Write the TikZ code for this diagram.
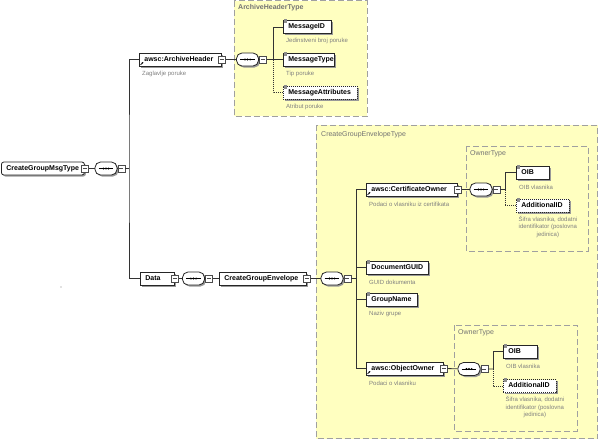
\documentclass[tikz,border=0pt]{standalone}
\usepackage{fontspec}
\setmainfont{Liberation Sans}
\usetikzlibrary{shadows,arrows.meta}
\definecolor{typebg}{RGB}{255,255,192}
\definecolor{typeline}{RGB}{160,160,160}
\definecolor{desctext}{RGB}{128,128,128}
\newcommand{\elemfont}{\fontsize{7}{8}\selectfont\bfseries}
\newcommand{\descfont}{\fontsize{6}{7.5}\selectfont}
\newcommand{\titlefont}{\fontsize{7}{8}\selectfont}
\tikzset{
  elem/.style={draw=black!85, fill=white, line width=0.8pt, font=\elemfont,
    inner xsep=5pt, inner ysep=0pt, minimum height=13pt, text height=5pt,
    text depth=1.5pt, anchor=west, align=left,
    drop shadow={shadow xshift=1.5pt, shadow yshift=-1.5pt, fill=black!40, opacity=1}},
  optelem/.style={elem, dash pattern=on 1pt off 1pt},
  seqbox/.style={draw=black!85, fill=white, line width=0.8pt, rounded corners=5.5pt,
    minimum width=22pt, minimum height=13pt, inner sep=0pt,
    drop shadow={shadow xshift=1.5pt, shadow yshift=-1.5pt, fill=black!40, opacity=1}},
  collapse/.style={draw=black!70, fill=white, line width=0.6pt, minimum size=7pt, inner sep=0pt,
    path picture={\draw[line width=0.6pt] ([xshift=1.5pt]path picture bounding box.west)
      -- ([xshift=-1.5pt]path picture bounding box.east);}},
  desc/.style={font=\descfont, text=desctext, inner sep=0pt, anchor=west},
  typebox/.style={draw=typeline, fill=typebg, line width=1pt, dash pattern=on 6pt off 3pt},
  typetitle/.style={font=\titlefont, text=black!55, inner sep=0pt, anchor=west},
  conn/.style={draw=black!80, line width=0.8pt},
  optconn/.style={conn, dash pattern=on 1pt off 1pt}
}
\begin{document}
\begin{tikzpicture}[x=1pt,y=-1pt]
	\useasboundingbox (0,0) rectangle (598,439);
	% type boxes
	\draw[typebox] (234,0.5) rectangle (367,116);
	\draw[typebox] (316,125) rectangle (597.5,438.5);
	\draw[typebox] (466,146) rectangle (588,251);
	\draw[typebox] (454,325) rectangle (577,431);
	\node[typetitle] (aht) at (238,8) {\bfseries ArchiveHeaderType};
	\node[typetitle] (cget) at (321,135) {CreateGroupEnvelopeType};
	\node[typetitle] (ot1) at (470,154) {OwnerType};
	\node[typetitle] (ot2) at (458,333) {OwnerType};
	% elements
	\node[elem, rounded corners=2.5pt, text width=73pt] (msg) at (1,168.5) {CreateGroupMsgType};
	\foreach \n/\x/\y/\w/\t in {ah/139/59.5/72/awsc:ArchiveHeader, mid/283/27/38/MessageID,
		mtype/283/59.5/41/MessageType, data/140/278.5/24/Data, cge/219/278.5/77/CreateGroupEnvelope,
		cert/366/189.5/81/awsc:CertificateOwner, dguid/366/267.5/52/DocumentGUID,
		gname/366/299.5/41/GroupName, oown/366/368.5/67/awsc:ObjectOwner,
		oib1/516/172.5/23/OIB, oib2/503/351.5/24/OIB}
	{\node[elem, text width=\w pt] (\n) at (\x,\y) {\t};}
	\foreach \n/\x/\y/\w/\t in {mattr/283/92.5/64/MessageAttributes,
		add1/516/205.5/43/AdditionalID, add2/503/386/43/AdditionalID}
	{\node[optelem, text width=\w pt] (\n) at (\x,\y) {\t};}
	\foreach \n in {mid,mtype,mattr,dguid,gname,oib1,add1,oib2,add2}
		\fill[black!45] ([xshift=0.5pt,yshift=1pt]\n.north west) rectangle ++(3,4);
	\foreach \n in {ah,cert,oown}
		\draw[black, line width=0.6pt, -{Latex[length=1.8pt,width=1.8pt]}]
			([xshift=1.5pt,yshift=1.5pt]\n.south west) -- ++(3,-3);
	\foreach \n in {msg,ah,data,cge,cert,oown}
		\node[collapse] (\n-c) at (\n.east) {};
	% sequences
	\foreach \n/\x/\y in {s1/106/168.5, s2/247.5/59.5, s3/193.5/278.5, s4/332/278.5, s5/481/189.5, s6/469/369}
	{
		\node[seqbox] (\n) at (\x,\y) {};
		\draw[line width=0.5pt] ([xshift=4pt]\n.west) -- ([xshift=-4pt]\n.east);
		\foreach \d in {-2.6,0,2.6} \fill ([xshift=\d pt]\n.center) circle (1.1);
		\node[collapse] (\n-c) at ([xshift=4pt]\n.east) {};
	}
	\coordinate (j1) at (129,168.5);
	\coordinate (j2) at (273,59.5);
	\coordinate (j3) at (356,278.5);
	\coordinate (j4) at (505,189.5);
	\coordinate (j5) at (493,369);
	% connectors
	\draw[conn] (msg-c) -- (s1) -- (s1-c) -- (j1);
	\draw[conn] (ah) -| (j1) |- (data);
	\draw[conn] (ah-c) -- (s2) -- (s2-c) -- (j2);
	\draw[conn] (j2) |- (mid);
	\draw[conn] (j2) -- (mtype);
	\draw[optconn] (j2) |- (mattr);
	\draw[conn] (data-c) -- (s3) -- (s3-c) -- (cge);
	\draw[conn] (cge-c) -- (s4) -- (s4-c) -- (j3);
	\draw[conn] (j3) |- (cert);
	\draw[conn] (j3) |- (dguid);
	\draw[conn] (j3) |- (gname);
	\draw[conn] (j3) |- (oown);
	\draw[conn] (cert-c) -- (s5) -- (s5-c) -- (j4);
	\draw[conn] (j4) |- (oib1);
	\draw[optconn] (j4) |- (add1);
	\draw[conn] (oown-c) -- (s6) -- (s6-c) -- (j5);
	\draw[conn] (j5) |- (oib2);
	\draw[optconn] (j5) |- (add2);
	% descriptions
	\foreach \n/\t in {ah/Zaglavlje poruke, mid/Jedinstveni broj poruke, mtype/Tip poruke,
		mattr/Atribut poruke, cert/Podaci o vlasniku iz certifikata, dguid/GUID dokumenta,
		gname/Naziv grupe, oown/Podaci o vlasniku, oib1/OIB vlasnika, oib2/OIB vlasnika}
		\node[desc] (\n-d) at ([xshift=3pt,yshift=-7.5pt]\n.south west) {\t};
	\foreach \n in {add1,add2}
		\node[desc, anchor=north, align=center] (\n-d) at ([xshift=5pt,yshift=-3.5pt]\n.south)
			{Šifra vlasnika, dodatni\\identifikator (poslovna\\jedinica)};
	\fill[black!50] (61,287) circle (0.6);
\end{tikzpicture}
\end{document}
